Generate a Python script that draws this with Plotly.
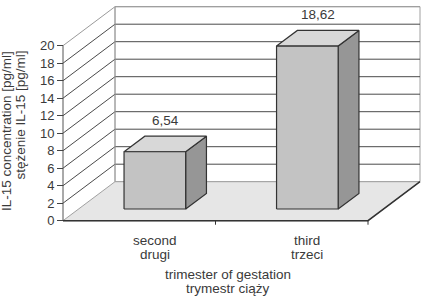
import plotly.graph_objects as go

# ---------------- data ----------------
categories_en = ["second", "third"]
categories_pl = ["drugi", "trzeci"]
values = [6.54, 18.62]
value_labels = ["6,54", "18,62"]
y_ticks = [0, 2, 4, 6, 8, 10, 12, 14, 16, 18, 20]
y_title_lines = ["IL-15 concentration [pg/ml]", "stężenie IL-15 [pg/ml]"]
x_title_lines = ["trimester of gestation", "trymestr ciąży"]

# ---------------- geometry / style ----------------
FONT = "Liberation Sans, Arial, sans-serif"
TXT = "#3a3a3a"
W, H = 425, 298
ML, MR, MT, MB = 58, 0, 0, 72
PX_CAT = 152.5          # px per category
PX_UNIT = 8.75          # px per value unit
X0_PX, Y0_PX = 63, 220.7  # pixel of front origin
DX = 52 / PX_CAT        # depth offset (x units)
DY = 39 / PX_UNIT       # depth offset (value units)
F0, F1 = 0.30, 0.70     # bar depth span
HW = 0.202              # bar half width
NCAT = len(values)
YMAX = max(y_ticks)

plot_w = W - ML - MR
plot_h = H - MT - MB
xr = [-(X0_PX - ML) / PX_CAT, (W - MR - X0_PX) / PX_CAT]
yr = [-(plot_h - Y0_PX) / PX_UNIT, Y0_PX / PX_UNIT]


def py(px):
    return (MT + plot_h - px) / plot_h


def pxx(px):
    return (px - ML) / plot_w


fig = go.Figure()


def poly(xs, ys, fill=None, line="#333", lw=1.0):
    fig.add_trace(go.Scatter(
        x=xs + [xs[0]] if fill else xs, y=ys + [ys[0]] if fill else ys,
        mode="lines", fill="toself" if fill else None,
        fillcolor=fill, line=dict(color=line, width=lw),
        hoverinfo="skip", showlegend=False))


# left wall
poly([0, DX, DX, 0], [0, DY, YMAX + DY, YMAX], fill="white", line="rgba(0,0,0,0)", lw=0)
# back wall
poly([DX, NCAT + DX, NCAT + DX, DX], [DY, DY, YMAX + DY, YMAX + DY], fill="white", line="#a0a0a0", lw=1)
# floor
poly([0, NCAT, NCAT + DX, DX], [0, 0, DY, DY], fill="#e6e6e6", line="#a0a0a0", lw=1)

# gridlines (side + back)
for v in y_ticks[1:]:
    col = "#9a9a9a" if v == YMAX else "#4a4a4a"
    poly([0, DX, NCAT + DX], [v, v + DY, v + DY], line=col, lw=1)
# back wall left edge in gray
poly([DX, DX], [DY, YMAX + DY], line="#a0a0a0", lw=1)

# front y-axis line
poly([0, 0], [0, YMAX], line="#555", lw=1)
# floor front and right edges
poly([0, NCAT, NCAT + DX], [0, 0, DY], line="#333", lw=1.5)
# category boundary ticks
for k in range(1, NCAT + 1):
    poly([k, k], [0, -0.46], line="#333", lw=1)

# bars
for i, v in enumerate(values):
    c = i + 0.5
    xl0, xr0 = c - HW + F0 * DX, c + HW + F0 * DX
    xl1, xr1 = c - HW + F1 * DX, c + HW + F1 * DX
    b0, b1 = F0 * DY, F1 * DY
    # right side
    poly([xr0, xr1, xr1, xr0], [b0, b1, v + b1, v + b0], fill="#969696", line="#333", lw=1.2)
    # top
    poly([xl0, xr0, xr1, xl1], [v + b0, v + b0, v + b1, v + b1], fill="#d8d8d8", line="#333", lw=1.2)
    # front
    poly([xl0, xr0, xr0, xl0], [b0, b0, v + b0, v + b0], fill="#c3c3c3", line="#333", lw=1.2)
    # value label
    fig.add_annotation(x=c + 0.5 * (F0 + F1) * DX, y=v + b1, xref="x", yref="y",
                       text=value_labels[i], showarrow=False, yanchor="middle",
                       yshift=15.5, font=dict(family=FONT, size=13.5, color=TXT))
    # category labels (two lines)
    for j, t in enumerate([categories_en[i], categories_pl[i]]):
        fig.add_annotation(x=c + F0 * DX, y=py(240.6 + j * 13.4), xref="x", yref="paper",
                           text=t, showarrow=False, yanchor="middle",
                           font=dict(family=FONT, size=13.5, color=TXT))

# x axis title
for j, t in enumerate(x_title_lines):
    fig.add_annotation(x=pxx(228), y=py(274.6 + j * 13.4), xref="paper", yref="paper",
                       text=t, showarrow=False, yanchor="middle",
                       font=dict(family=FONT, size=13.5, color=TXT))

# y axis title
for j, t in enumerate(y_title_lines):
    fig.add_annotation(x=pxx(6 + j * 14), y=py(49), xref="paper", yref="paper",
                       text=t, showarrow=False, textangle=-90,
                       xanchor="center", yanchor="top",
                       font=dict(family=FONT, size=13.5, color=TXT))

fig.update_layout(
    width=W, height=H, margin=dict(l=ML, r=MR, t=MT, b=MB, pad=0),
    paper_bgcolor="white", plot_bgcolor="white",
    xaxis=dict(range=xr, visible=False, fixedrange=True),
    yaxis=dict(range=yr, tickvals=y_ticks, ticks="outside", ticklen=6,
               tickcolor="#444", tickwidth=1, showgrid=False, zeroline=False,
               showline=False, anchor="free", position=(X0_PX - ML) / plot_w,
               automargin=False, fixedrange=True,
               tickfont=dict(family=FONT, size=13, color=TXT)),
    showlegend=False,
)

fig.write_html("out.html")
